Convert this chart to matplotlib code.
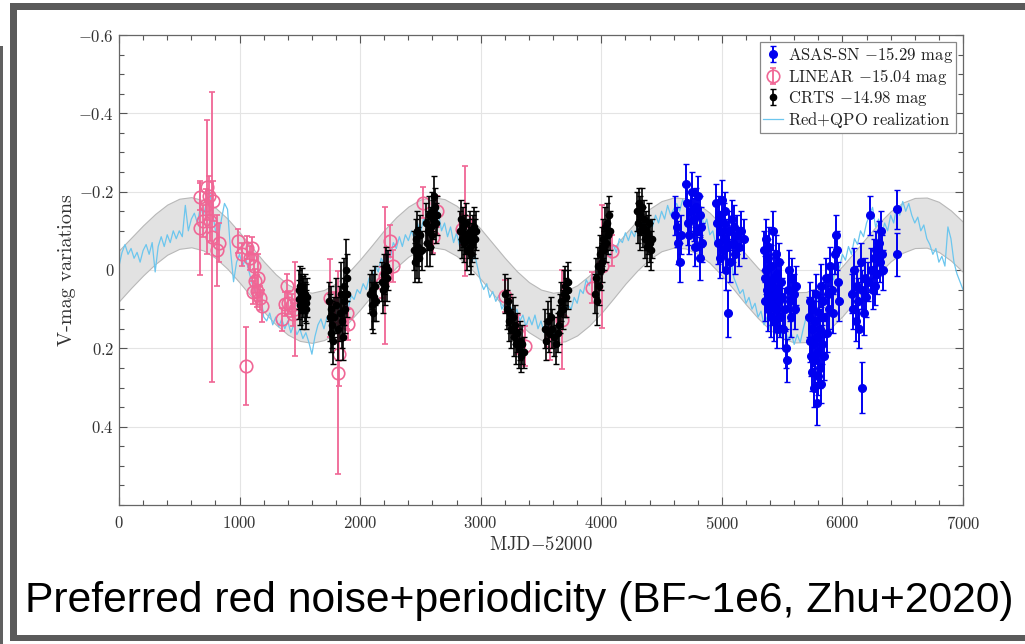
import numpy as np
import matplotlib
matplotlib.use("Agg")
import matplotlib.pyplot as plt
from matplotlib.patches import Rectangle
from matplotlib.ticker import MultipleLocator, FixedLocator, FuncFormatter

plt.rcParams['font.family'] = 'serif'
plt.rcParams['font.serif'] = ['cmr10']
plt.rcParams['mathtext.fontset'] = 'cm'
plt.rcParams['axes.unicode_minus'] = False
plt.rcParams['axes.formatter.use_mathtext'] = True

# ---------------- data ----------------
band_x = np.arange(0, 7001, 100)
band_upper = [-0.050, -0.082, -0.114, -0.143, -0.167, -0.182, -0.186, -0.178, -0.159, -0.131,
              -0.096, -0.059, -0.022, 0.011, 0.037, 0.053, 0.058, 0.051, 0.034, 0.007,
              -0.027, -0.064, -0.102, -0.135, -0.162, -0.180, -0.186, -0.181, -0.164, -0.138,
              -0.105, -0.068, -0.031, 0.003, 0.031, 0.050, 0.058, 0.054, 0.039, 0.014,
              -0.018, -0.055, -0.093, -0.127, -0.156, -0.176, -0.185, -0.183, -0.169, -0.146,
              -0.114, -0.078, -0.040, -0.005, 0.025, 0.046, 0.057, 0.056, 0.044, 0.021,
              -0.010, -0.046, -0.083, -0.119, -0.150, -0.172, -0.184, -0.185, -0.174, -0.152,
              -0.123]
band_lower = [0.080, 0.046, 0.014, -0.015, -0.039, -0.054, -0.058, -0.050, -0.031, -0.003,
              0.032, 0.069, 0.106, 0.139, 0.165, 0.181, 0.186, 0.179, 0.162, 0.135,
              0.101, 0.064, 0.026, -0.007, -0.034, -0.052, -0.058, -0.053, -0.036, -0.010,
              0.023, 0.060, 0.097, 0.131, 0.159, 0.178, 0.186, 0.182, 0.167, 0.142,
              0.110, 0.073, 0.035, 0.001, -0.028, -0.048, -0.057, -0.055, -0.041, -0.018,
              0.014, 0.050, 0.088, 0.123, 0.153, 0.174, 0.185, 0.184, 0.172, 0.149,
              0.118, 0.082, 0.045, 0.009, -0.022, -0.044, -0.056, -0.057, -0.046, -0.024,
              0.005]

qpo_x = np.arange(0, 7001, 25)
qpo_y = [
    -0.01, -0.045, -0.065, -0.04, -0.055, -0.03, -0.045, -0.02, -0.05, -0.065, -0.04, -0.07, 0.005, -0.06, -0.085, -0.06, -0.09, -0.07, -0.1, -0.08,
    -0.1, -0.085, -0.165, -0.1, -0.13, -0.145, -0.12, -0.16, -0.14, -0.17, -0.205, -0.15, -0.1, -0.085, -0.13, -0.17, -0.155, -0.05, 0.03, -0.02,
    -0.04, -0.01, -0.03, 0.0, 0.03, 0.05, 0.07, 0.06, 0.12, 0.13, 0.11, 0.14, 0.12, 0.145, 0.125, 0.15, 0.13, 0.16, 0.14, 0.165,
    0.15, 0.175, 0.16, 0.185, 0.215, 0.17, 0.14, 0.125, 0.15, 0.12, 0.135, 0.11, 0.125, 0.09, 0.115, 0.08, 0.1, 0.065, 0.075, 0.05,
    0.06, 0.035, 0.05, 0.02, 0.03, -0.01, 0.005, -0.03, -0.015, -0.05, -0.03, -0.07, -0.055, -0.085, -0.06, -0.09, -0.075, -0.1, -0.08, -0.12,
    -0.095, -0.13, -0.11, -0.14, -0.12, -0.17, -0.145, -0.1, -0.12, -0.085, -0.11, -0.07, -0.095, -0.06, -0.08, -0.045, -0.06, -0.02, -0.04, -0.005,
    0.03, 0.05, 0.035, 0.07, 0.055, 0.08, 0.065, 0.1, 0.085, 0.115, 0.095, 0.12, 0.1, 0.13, 0.115, 0.145, 0.12, 0.14, 0.115, 0.15,
    0.13, 0.16, 0.14, 0.175, 0.15, 0.18, 0.155, 0.13, 0.105, 0.09, 0.1, 0.07, 0.085, 0.05, 0.06, 0.025, 0.04, 0.01, 0.03, -0.01,
    -0.03, -0.015, -0.05, -0.03, -0.065, -0.045, -0.08, -0.07, -0.095, -0.075, -0.1, -0.085, -0.11, -0.09, -0.125, -0.1, -0.13, -0.11, -0.14, -0.12,
    -0.15, -0.13, -0.165, -0.14, -0.155, -0.17, -0.15, -0.18, -0.16, -0.175, -0.145, -0.17, -0.14, -0.155, -0.11, -0.13, -0.09, -0.1, -0.065, -0.08,
    -0.04, -0.05, -0.01, -0.025, 0.02, 0.04, 0.06, 0.05, 0.085, 0.07, 0.1, 0.085, 0.12, 0.105, 0.14, 0.12, 0.15, 0.13, 0.16, 0.14,
    0.17, 0.15, 0.18, 0.16, 0.19, 0.165, 0.185, 0.15, 0.12, 0.13, 0.09, 0.1, 0.06, 0.075, 0.03, 0.05, 0.01, 0.025, -0.02, -0.005,
    -0.04, -0.025, -0.06, -0.04, -0.08, -0.065, -0.1, -0.085, -0.12, -0.14, -0.16, -0.11, -0.13, -0.09, -0.12, -0.1, -0.14, -0.12, -0.16, -0.14,
    -0.175, -0.15, -0.17, -0.14, -0.12, -0.135, -0.1, -0.115, -0.08, -0.065, -0.04, -0.055, -0.02, -0.035, -0.01, -0.11, -0.08, -0.02, 0.01, 0.03,
    0.05]

linear_x = [668, 672, 700, 722, 727, 745, 755, 769, 782, 816, 829,
            990, 1017, 1059, 1086, 1100, 1114, 1120, 1128, 1142, 1155, 1169, 1183, 1052,
            1349, 1377, 1391, 1404, 1432, 1446, 1462,
            1750, 1791, 1820, 1828, 1890, 1902,
            2179, 2207, 2248, 2275,
            2524, 2607, 2635, 2842, 2870,
            3201, 3312, 3367,
            3575, 3671, 3920, 4003, 4086]
linear_y = [-0.187, -0.108, -0.125, -0.167, -0.212, -0.19, -0.125, -0.085, -0.176, -0.05, -0.07,
            -0.074, -0.04, -0.057, -0.031, -0.055, 0.057, -0.01, 0.028, 0.054, 0.02, 0.071, 0.092, 0.245,
            0.126, 0.087, 0.041, 0.083, 0.09, 0.113, 0.1,
            0.071, 0.096, 0.262, 0.215, 0.11, 0.139,
            0.032, 0.015, -0.074, -0.01,
            -0.172, -0.083, -0.15, -0.104, -0.125,
            0.066, 0.164, 0.194,
            0.181, 0.127, 0.045, -0.01, -0.049]
linear_err = [0.035, 0.12, 0.04, 0.04, 0.17, 0.05, 0.05, 0.37, 0.05, 0.09, 0.05,
              0.03, 0.03, 0.03, 0.03, 0.03, 0.03, 0.03, 0.03, 0.04, 0.06, 0.03, 0.04, 0.1,
              0.03, 0.03, 0.03, 0.03, 0.03, 0.03, 0.12,
              0.1, 0.04, 0.26, 0.08, 0.04, 0.04,
              0.04, 0.175, 0.04, 0.04,
              0.04, 0.04, 0.04, 0.04, 0.14,
              0.04, 0.05, 0.05,
              0.05, 0.127, 0.04, 0.157, 0.04]

crts_x = [1490, 1495, 1500, 1505, 1510, 1515, 1520, 1525, 1530, 1540, 1545, 1550, 1555, 1560,
          1740, 1748, 1755, 1762, 1770, 1778, 1785, 1800, 1815, 1830, 1840, 1848, 1855, 1862, 1870, 1878, 1885, 1890, 1895,
          2085, 2095, 2100, 2108, 2115, 2122, 2130, 2185, 2192, 2200, 2208, 2215, 2222, 2230,
          2445, 2452, 2460, 2468, 2475, 2482, 2490, 2500, 2510, 2545, 2555, 2562, 2570, 2578, 2585, 2592, 2600, 2608, 2615, 2622, 2630, 2638,
          2830, 2838, 2845, 2852, 2860, 2868, 2875, 2890, 2900, 2908, 2915, 2922, 2930, 2940, 2948, 2955, 2962,
          3205, 3215, 3225, 3235, 3245, 3255, 3265, 3275, 3285, 3295, 3305, 3315, 3325, 3335, 3345, 3355,
          3535, 3545, 3555, 3565, 3580, 3595, 3610, 3625, 3640, 3650, 3660, 3670, 3680, 3690, 3700, 3710, 3720, 3728,
          3950, 3958, 3965, 3972, 3980, 3988, 3995, 4002, 4010, 4018, 4025, 4032, 4040, 4048, 4055, 4062, 4070,
          4295, 4302, 4310, 4318, 4325, 4340, 4350, 4358, 4365, 4372, 4380, 4388, 4395, 4402, 4410, 4418]
crts_y = [0.05, 0.075, 0.04, 0.09, 0.06, 0.045, 0.1, 0.07, 0.055, 0.08, 0.06, 0.085, 0.1, 0.07,
          0.08, 0.12, 0.16, 0.1, 0.14, 0.18, 0.12, 0.09, 0.15, 0.11, 0.06, 0.13, 0.17, 0.08, 0.04, 0.1, 0.0, 0.02, 0.06,
          0.06, 0.09, 0.05, 0.11, 0.07, 0.04, 0.08, 0.03, 0.05, 0.01, 0.04, -0.01, 0.02, 0.0,
          -0.05, -0.02, -0.08, -0.04, -0.1, -0.06, -0.03, -0.09, -0.05, -0.12, -0.07, -0.1, -0.14, -0.06, -0.11, -0.15, -0.09, -0.13, -0.19, -0.16, -0.12, -0.14,
          -0.1, -0.13, -0.08, -0.11, -0.07, -0.09, -0.12, -0.05, -0.08, -0.06, -0.1, -0.04, -0.07, -0.09, -0.11, -0.08, -0.1,
          0.06, 0.1, 0.08, 0.13, 0.11, 0.15, 0.12, 0.17, 0.14, 0.19, 0.16, 0.2, 0.18, 0.22, 0.19, 0.21,
          0.15, 0.18, 0.13, 0.16, 0.12, 0.15, 0.17, 0.19, 0.16, 0.14, 0.11, 0.08, 0.1, 0.06, 0.04, 0.07, 0.03, 0.05,
          0.06, 0.02, 0.08, -0.01, 0.04, -0.04, 0.0, -0.06, -0.02, -0.08, -0.05, -0.11, -0.07, -0.12, -0.09, -0.14, -0.1,
          -0.15, -0.12, -0.17, -0.1, -0.14, -0.16, -0.11, -0.13, -0.08, -0.1, -0.06, -0.09, -0.12, -0.07, -0.05, -0.08]
crts_err = [0.05, 0.05, 0.05, 0.05, 0.05, 0.05, 0.05, 0.05, 0.04, 0.05, 0.05, 0.05, 0.05, 0.05,
            0.05, 0.06, 0.05, 0.06, 0.06, 0.06, 0.05, 0.07, 0.08, 0.07, 0.08, 0.07, 0.06, 0.06, 0.07, 0.06, 0.08, 0.06, 0.06,
            0.05, 0.06, 0.05, 0.05, 0.06, 0.05, 0.05, 0.05, 0.06, 0.05, 0.05, 0.05, 0.06, 0.05,
            0.05, 0.05, 0.05, 0.06, 0.05, 0.05, 0.06, 0.05, 0.05, 0.05, 0.06, 0.05, 0.05, 0.05, 0.05, 0.05, 0.05, 0.05, 0.05, 0.05, 0.05, 0.05,
            0.05, 0.05, 0.05, 0.05, 0.05, 0.05, 0.05, 0.05, 0.05, 0.05, 0.05, 0.05, 0.05, 0.05, 0.05, 0.05, 0.05,
            0.05, 0.05, 0.06, 0.05, 0.05, 0.05, 0.05, 0.05, 0.05, 0.05, 0.05, 0.05, 0.05, 0.04, 0.05, 0.04,
            0.05, 0.05, 0.05, 0.05, 0.05, 0.05, 0.05, 0.05, 0.05, 0.05, 0.05, 0.05, 0.05, 0.06, 0.05, 0.05, 0.05, 0.05,
            0.05, 0.05, 0.06, 0.05, 0.05, 0.05, 0.05, 0.05, 0.05, 0.05, 0.05, 0.05, 0.05, 0.05, 0.05, 0.05, 0.05,
            0.05, 0.05, 0.04, 0.05, 0.05, 0.05, 0.05, 0.05, 0.05, 0.05, 0.05, 0.05, 0.05, 0.05, 0.05, 0.05]

asas_x = [4615, 4625, 4640, 4650, 4660,
          4700, 4710, 4720, 4730, 4740, 4755, 4765, 4775, 4785, 4795, 4805, 4815, 4820, 4830, 4835,
          4955, 4962, 4970, 4978, 4985, 4992, 5000, 5008, 5015, 5022, 5030, 5038, 5045, 5054, 5062, 5070, 5080, 5090, 5100, 5110, 5125, 5140, 5160, 5180,
          5350, 5355, 5360, 5365, 5370, 5375, 5380, 5385, 5390, 5395, 5400, 5405, 5410, 5415, 5420, 5425, 5430, 5435, 5440, 5445,
          5450, 5455, 5460, 5465, 5470, 5475, 5480, 5490, 5500, 5510, 5520, 5530, 5538, 5545, 5555, 5565, 5575, 5585, 5595, 5605, 5615,
          5725, 5730, 5735, 5740, 5745, 5750, 5755, 5760, 5765, 5770, 5775, 5780, 5785, 5790, 5795, 5800, 5805, 5810, 5815,
          5820, 5825, 5830, 5835, 5840, 5850, 5860, 5870, 5880, 5890, 5900, 5910, 5920, 5935, 5945, 5955, 5965, 5975,
          6080, 6090, 6100, 6110, 6120, 6130, 6140, 6150, 6160, 6165, 6175, 6185, 6195,
          6210, 6229, 6240, 6250, 6260, 6270, 6280, 6290, 6300, 6310, 6320, 6330, 6340,
          6450, 6452]
asas_y = [-0.14, -0.11, -0.07, -0.02, -0.09,
          -0.22, -0.17, -0.12, -0.09, -0.15, -0.2, -0.13, -0.06, -0.16, -0.1, -0.19, -0.14, -0.03, -0.11, -0.07,
          -0.17, -0.12, -0.07, -0.14, -0.03, -0.1, -0.18, -0.05, -0.12, -0.08, -0.15, 0.0, -0.06, 0.11, -0.1, -0.02, -0.13, -0.07, -0.11, -0.04, -0.09, -0.06, -0.1, -0.08,
          -0.05, 0.02, 0.08, -0.08, 0.0, 0.05, -0.03, 0.1, 0.03, -0.06, 0.07, 0.12, -0.01, 0.04, 0.09, -0.1, 0.02, 0.13, 0.06, -0.04,
          0.1, 0.01, 0.15, 0.05, -0.02, 0.08, 0.12, 0.03, 0.07, 0.15, 0.1, 0.2, 0.23, 0.05, 0.0, 0.08, 0.12, 0.02, 0.06, 0.1, 0.04,
          0.12, 0.18, 0.08, 0.22, 0.15, 0.26, 0.1, 0.19, 0.3, 0.13, 0.23, 0.06, 0.17, 0.34, 0.27, 0.21, 0.11, 0.25, 0.15,
          0.29, 0.04, 0.19, 0.08, 0.12, 0.22, 0.02, 0.16, 0.06, 0.1, -0.01, 0.05, 0.11, -0.04, -0.09, -0.05, 0.03, 0.08,
          0.06, 0.1, 0.0, 0.13, 0.04, 0.08, 0.15, -0.02, 0.3, 0.05, 0.11, 0.02, 0.07,
          0.03, -0.14, 0.0, 0.05, -0.03, 0.04, -0.05, 0.01, -0.07, -0.02, -0.1, -0.04, 0.0,
          -0.155, -0.04]
asas_err = [0.05, 0.05, 0.055, 0.05, 0.05,
            0.05, 0.05, 0.055, 0.05, 0.05, 0.05, 0.055, 0.05, 0.05, 0.05, 0.05, 0.05, 0.055, 0.05, 0.05,
            0.05, 0.05, 0.055, 0.05, 0.05, 0.05, 0.05, 0.055, 0.05, 0.05, 0.05, 0.05, 0.055, 0.06, 0.05, 0.05, 0.05, 0.05, 0.055, 0.05, 0.05, 0.05, 0.05, 0.05,
            0.05, 0.055, 0.05, 0.05, 0.06, 0.05, 0.05, 0.055, 0.05, 0.05, 0.05, 0.05, 0.055, 0.05, 0.05, 0.05, 0.06, 0.05, 0.05, 0.05,
            0.05, 0.055, 0.05, 0.05, 0.05, 0.06, 0.05, 0.05, 0.05, 0.05, 0.055, 0.05, 0.055, 0.05, 0.05, 0.05, 0.05, 0.05, 0.05, 0.05, 0.05,
            0.05, 0.055, 0.05, 0.05, 0.06, 0.05, 0.05, 0.055, 0.05, 0.05, 0.06, 0.05, 0.05, 0.055, 0.05, 0.06, 0.05, 0.05, 0.05,
            0.05, 0.055, 0.05, 0.05, 0.05, 0.06, 0.05, 0.05, 0.05, 0.05, 0.05, 0.055, 0.05, 0.05, 0.05, 0.05, 0.05, 0.05,
            0.05, 0.05, 0.055, 0.05, 0.05, 0.06, 0.05, 0.05, 0.065, 0.05, 0.055, 0.05, 0.05,
            0.05, 0.05, 0.055, 0.05, 0.05, 0.05, 0.05, 0.05, 0.055, 0.05, 0.05, 0.05, 0.05,
            0.05, 0.055]

x_ticks = [0, 1000, 2000, 3000, 4000, 5000, 6000, 7000]
y_ticks = [-0.6, -0.4, -0.2, 0.0, 0.2, 0.4]

label_asas = r'ASAS-SN $-15.29$ mag'
label_linear = r'LINEAR $-15.04$ mag'
label_crts = r'CRTS $-14.98$ mag'
label_qpo = r'Red$+$QPO realization'
caption = 'Preferred red noise+periodicity (BF~1e6, Zhu+2020)'

# ---------------- figure ----------------
W, H = 1025, 644
fig = plt.figure(figsize=(W / 100, H / 100), dpi=100)
fig.patch.set_facecolor('white')

def fx(px):
    return px / W

def fy(py):
    return 1 - py / H

frame_col = '#5a5a5a'
# slide frame
fig.add_artist(Rectangle((fx(10), fy(10)), fx(1030) - fx(10), fy(3) - fy(10),
                         transform=fig.transFigure, color=frame_col, lw=0))
fig.add_artist(Rectangle((fx(10), fy(640)), fx(7), fy(3) - fy(640),
                         transform=fig.transFigure, color=frame_col, lw=0))
fig.add_artist(Rectangle((fx(10), fy(641)), fx(1030) - fx(10), fy(635) - fy(641),
                         transform=fig.transFigure, color=frame_col, lw=0))
fig.add_artist(Rectangle((fx(0), fy(644)), fx(3), fy(46) - fy(644),
                         transform=fig.transFigure, color='#606060', lw=0))

ax = fig.add_axes([fx(119), fy(505), fx(963) - fx(119), fy(35) - fy(505)])

ax.fill_between(band_x, band_upper, band_lower, facecolor='#e2e2e2',
                edgecolor='#b8b8b8', lw=0.8, zorder=1)
ax.plot(qpo_x, qpo_y, color='#6cc6ee', lw=0.9, zorder=2, label=label_qpo)

pink = '#f06695'
h_lin = ax.errorbar(linear_x, linear_y, yerr=linear_err, fmt='o', ms=9, mfc='none',
                    mec=pink, mew=1.2, ecolor=pink, elinewidth=1.3, capsize=2,
                    capthick=1.0, zorder=3, label=label_linear)
h_crts = ax.errorbar(crts_x, crts_y, yerr=crts_err, fmt='o', ms=4.5, color='black',
                     ecolor='black', elinewidth=1.2, capsize=2.3, capthick=1.0,
                     zorder=4, label=label_crts)
h_asas = ax.errorbar(asas_x, asas_y, yerr=asas_err, fmt='o', ms=5.5, color='#0000f0',
                     ecolor='#0000f0', elinewidth=1.4, capsize=2.3, capthick=1.0,
                     zorder=5, label=label_asas)

ax.set_xlim(0, 7000)
ax.set_ylim(0.6, -0.6)
ax.xaxis.set_major_locator(FixedLocator(x_ticks))
ax.yaxis.set_major_locator(FixedLocator(y_ticks))
ax.xaxis.set_minor_locator(MultipleLocator(200))
ax.yaxis.set_minor_locator(MultipleLocator(0.05))
fmt = FuncFormatter(lambda v, p: (r'$%g$' % round(v, 3)) if abs(v) > 1e-9 else r'$0$')
ax.xaxis.set_major_formatter(fmt)
ax.yaxis.set_major_formatter(fmt)
ax.tick_params(which='both', direction='in', top=True, right=True, colors='#555555',
               labelcolor='#333333', labelsize=12)
ax.tick_params(which='major', length=6, width=0.8)
ax.tick_params(which='minor', length=3.5, width=0.8)
ax.tick_params(axis='x', pad=7)
for s in ax.spines.values():
    s.set_color('#666666')
    s.set_linewidth(0.9)
ax.grid(True, which='major', color='#e4e4e4', lw=0.8, zorder=0)
ax.set_axisbelow(True)

ax.set_xlabel(r'MJD$-52000$', fontsize=13.5, color='#333333', labelpad=3)
ax.set_ylabel('V-mag variations', fontsize=14.5, color='#333333', labelpad=2)

handles = [h_asas, h_lin, h_crts, ax.get_lines()[0]]
leg = ax.legend(handles=handles, labels=[label_asas, label_linear, label_crts, label_qpo],
                loc='upper right', fontsize=12, fancybox=False, framealpha=1,
                edgecolor='#888888', handlelength=1.2, handletextpad=0.3,
                labelspacing=0.12, borderpad=0.2, borderaxespad=0.4)
leg.get_frame().set_linewidth(0.9)
for t in leg.get_texts():
    t.set_color('#222222')

fig.text(fx(25), fy(612), caption, fontsize=30.7, family='Liberation Sans',
         color='black', ha='left', va='baseline')

fig.savefig('out.png', dpi=100, facecolor='white')
